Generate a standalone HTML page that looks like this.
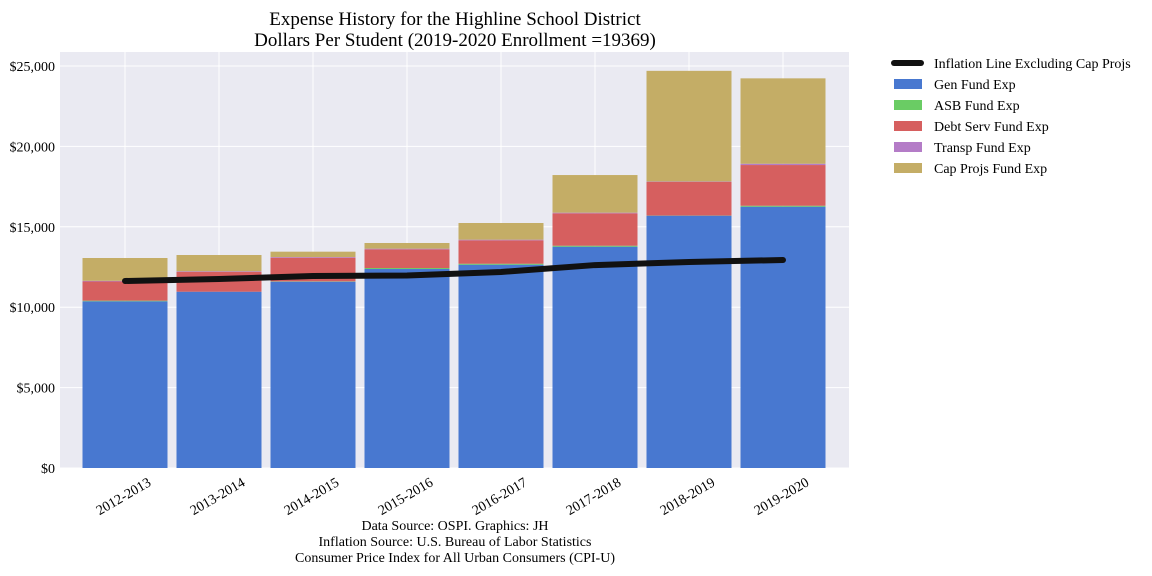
<!DOCTYPE html>
<html><head><meta charset="utf-8"><style>
body{margin:0;background:#fff;}
svg{display:block;font-family:"Liberation Serif",serif;}
</style></head><body>
<svg id="chart" width="1152" height="576" viewBox="0 0 1152 576">
<rect x="60" y="52" width="789" height="416" fill="#eaeaf2"/>
<g id="grid"></g><g id="bars"></g><g id="line"></g><g id="axes"></g>
<text x="455" y="25" font-size="19" text-anchor="middle">Expense History for the Highline School District</text>
<text x="455" y="46" font-size="19" text-anchor="middle">Dollars Per Student (2019-2020 Enrollment =19369)</text>
<text x="455" y="530" font-size="14" text-anchor="middle">Data Source: OSPI. Graphics: JH</text>
<text x="455" y="546" font-size="14" text-anchor="middle">Inflation Source: U.S. Bureau of Labor Statistics</text>
<text x="455" y="562" font-size="14" text-anchor="middle">Consumer Price Index for All Urban Consumers (CPI-U)</text>
<g id="legend"></g>
</svg>
<script>
const categories=["2012-2013","2013-2014","2014-2015","2015-2016","2016-2017","2017-2018","2018-2019","2019-2020"];
const genFund=[10367,10964,11586,12375,12643,13763,15690,16250];
const asbFund=[40,0,20,60,60,60,10,60];
const debtFund=[1193,1226,1472,1165,1457,2015,2096,2531];
const transpFund=[40,40,40,40,40,40,20,80];
const capFund=[1420,1016,335,353,1036,2341,6883,5311];
const inflation=[11630,11750,11940,11970,12190,12620,12810,12935];
const yTicks=[0,5000,10000,15000,20000,25000];
const yTickLabels=["$0","$5,000","$10,000","$15,000","$20,000","$25,000"];
const seriesNames=["Gen Fund Exp","ASB Fund Exp","Debt Serv Fund Exp","Transp Fund Exp","Cap Projs Fund Exp"];
const colors=["#4878d0","#6acc64","#d65f5f","#b47cc7","#c4ad66"];
const NS="http://www.w3.org/2000/svg";
const y=v=>468-v*0.01608;
const x=i=>125+94*i;
const bw=85;
function mk(tag,attrs,parent,text){const e=document.createElementNS(NS,tag);for(const k in attrs)e.setAttribute(k,attrs[k]);if(text!==undefined)e.textContent=text;parent.appendChild(e);return e;}
const grid=document.getElementById('grid'),bars=document.getElementById('bars'),axes=document.getElementById('axes'),lineG=document.getElementById('line'),legend=document.getElementById('legend');
yTicks.forEach((t,k)=>{
  const g=mk('line',{x1:60,x2:849,y1:y(t),y2:y(t),stroke:'#fff','stroke-width':1},grid);
  
  
  const l=mk('text',{x:55,y:y(t)+5,'font-size':14,'text-anchor':'end'},axes,yTickLabels[k]);
  
  
});
categories.forEach((c,i)=>{
  const g=mk('line',{x1:x(i),x2:x(i),y1:52,y2:468,stroke:'#fff','stroke-width':1},grid);
  
  
  const l=mk('text',{x:0,y:0,'font-size':14,'text-anchor':'end',transform:`translate(${x(i)+27},${485}) rotate(-30)`},axes,c);
  
  
});
const series=[genFund,asbFund,debtFund,transpFund,capFund];
const segNames=['gen-fund-bar','asb-fund-bar','debt-serv-fund-bar','transp-fund-bar','cap-projs-fund-bar'];
categories.forEach((c,i)=>{
  let base=0;
  series.forEach((s,k)=>{
    const top=base+s[i];
    const r=mk('rect',{x:x(i)-bw/2,y:y(top),width:bw,height:Math.max(0,y(base)-y(top)),fill:colors[k]},bars);
    
    
    base=top;
  });
});
const pts=inflation.map((v,i)=>`${x(i)},${y(v)}`).join(' ');
const pl=mk('polyline',{points:pts,fill:'none',stroke:'#111','stroke-width':6,'stroke-linecap':'round','stroke-linejoin':'round'},lineG);


const ll=mk('line',{x1:894,x2:921,y1:63,y2:63,stroke:'#111','stroke-width':6,'stroke-linecap':'round'},legend);


const lt=mk('text',{x:934,y:68,'font-size':14},legend,'Inflation Line Excluding Cap Projs');


seriesNames.forEach((n,k)=>{
  const cy=84+21*k;
  const r=mk('rect',{x:894,y:cy-5,width:28,height:10,fill:colors[k]},legend);
  
  
  const t=mk('text',{x:934,y:cy+5,'font-size':14},legend,n);
  
  
});
</script>
</body></html>
